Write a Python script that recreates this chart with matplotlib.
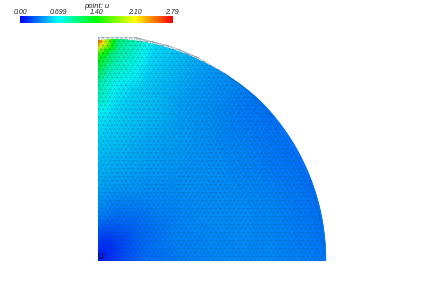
#!/usr/bin/env python3
"""Quarter disc FEM result (point: u) with rainbow colour bar."""

import numpy as np
import matplotlib
matplotlib.use('Agg')
import matplotlib.pyplot as plt
import matplotlib.tri as mtri
from matplotlib.colors import LinearSegmentedColormap

W, H = 423, 295
ORIGIN_PX = (98.5, 260.5)
SCALE_PX = 226.5

TITLE = 'point: u'
TICK_VALUES = [0.0, 0.699, 1.40, 2.10, 2.79]
TICK_LABELS = ['0.00', '0.699', '1.40', '2.10', '2.79']

# values at these polar stations
R_STATIONS = [0.0, 0.1, 0.2, 0.35, 0.5, 0.65, 0.8, 0.9, 0.95, 1.0]
ANGLE_STATIONS = [0, 15, 30, 45, 60, 75, 85, 90]
U_VALUES = [
    [.05, .05, .05, .05, .05, .05, .05, .05],
    [.20, .20, .18, .16, .15, .16, .17, .17],
    [.30, .30, .28, .27, .29, .32, .35, .36],
    [.35, .37, .36, .38, .41, .44, .47, .49],
    [.38, .39, .40, .41, .45, .50, .54, .56],
    [.39, .40, .40, .41, .46, .55, .62, .68],
    [.38, .38, .37, .38, .44, .58, .72, .93],
    [.36, .35, .34, .35, .44, .61, .88, 1.30],
    [.35, .34, .33, .34, .44, .62, .98, 1.70],
    [.34, .32, .31, .33, .44, .63, 1.08, 2.50],
]
# outer edge of the coloured part, per angle station
EDGE_R = [1.003, 1.003, 1.003, 1.002, 0.99, 0.985, 0.98, 0.97]

cmap = LinearSegmentedColormap.from_list(
    'rainbow_u', ['#0000ff', '#00ffff', '#00ff00', '#ffff00', '#ff0000'])

# field sampled in (r, angle) so the rim stays round
S, A = np.meshgrid(R_STATIONS, ANGLE_STATIONS, indexing='ij')
U = np.array(U_VALUES)
polar = mtri.Triangulation(S.ravel(), A.ravel() / 90.0)
interp = mtri.LinearTriInterpolator(polar, U.ravel())

fine_s, fine_a = np.meshgrid(np.linspace(0, 1, 300), np.linspace(0, 90, 400), indexing='ij')
field = interp(fine_s, fine_a / 90.0)
edge = np.interp(fine_a, ANGLE_STATIONS, EDGE_R)
fx = fine_s * edge * np.cos(np.radians(fine_a))
fy = fine_s * edge * np.sin(np.radians(fine_a))

# triangular mesh used for the wireframe
h = 4.6 / SCALE_PX
rows = np.arange(0, 1.03, h * np.sqrt(3) / 2)
mx, my = [], []
for i, y in enumerate(rows):
    xs = np.arange(0, 1.03, h) + (h / 2 if i % 2 else 0)
    mx.extend(xs)
    my.extend([y] * len(xs))
mx, my = np.array(mx), np.array(my)
keep = np.hypot(mx, my) <= 1.0
mesh = mtri.Triangulation(mx[keep], my[keep])

fig = plt.figure(figsize=(W / 100, H / 100), dpi=100)
ax = fig.add_axes([0, 0, 1, 1])
ax.set_xlim(-ORIGIN_PX[0] / SCALE_PX, (W - ORIGIN_PX[0]) / SCALE_PX)
ax.set_ylim((ORIGIN_PX[1] - H) / SCALE_PX, ORIGIN_PX[1] / SCALE_PX)
ax.axis('off')

# grey mesh band shows above the coloured part near the top left
ax.triplot(mesh, color='#cfcfcf', linewidth=0.35, zorder=1)
ax.pcolormesh(fx, fy, field, cmap=cmap, vmin=0, vmax=2.79, shading='gouraud', zorder=2)
ax.triplot(mesh, color='#004070', linewidth=0.4, alpha=0.3, zorder=3)
ax.text(0.01, 0.02, 'u', color='#101040', fontsize=8, ha='center', va='center', zorder=4)

# colour bar
cax = fig.add_axes([20 / W, 1 - 23 / H, 152 / W, 7 / H])
cax.imshow(np.linspace(0, 2.79, 256)[None, :], cmap=cmap, aspect='auto',
           extent=(0, 2.79, 0, 1))
cax.set_yticks([])
cax.set_xticks(TICK_VALUES)
cax.set_xticklabels(TICK_LABELS, fontsize=5, style='italic', color='#222222',
                    family='Liberation Sans')
cax.xaxis.tick_top()
cax.tick_params(axis='x', length=0, pad=0.2)
for s in cax.spines.values():
    s.set_visible(False)
fig.text(97 / W, 1 - 6 / H, TITLE, fontsize=5.5, style='italic', color='#222222',
         ha='center', va='center', family='Liberation Sans')

plt.savefig('out.png', dpi=100)
